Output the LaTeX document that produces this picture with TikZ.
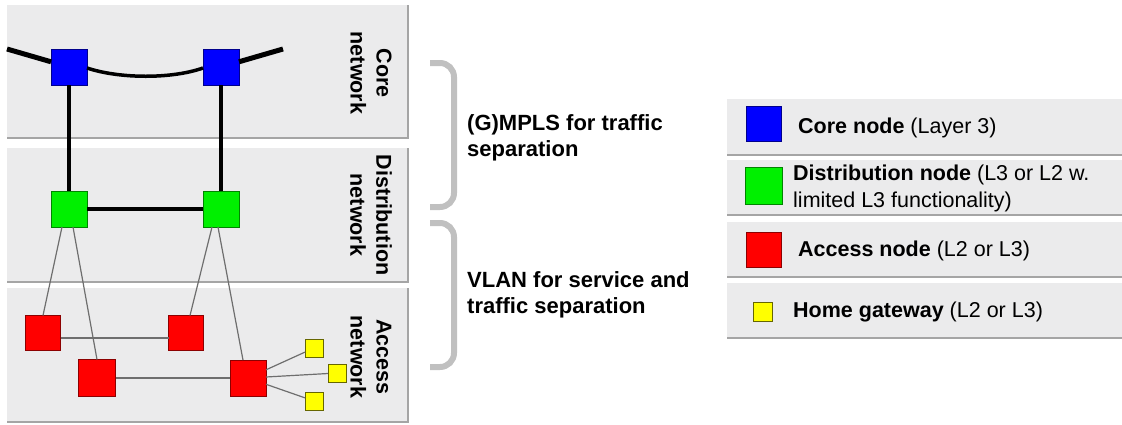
\documentclass[tikz,border=0pt]{standalone}
\usepackage{fontspec}
\setmainfont{Liberation Sans}
\begin{document}
\begin{tikzpicture}[x=1pt,y=-1pt,
  sq/.style={draw=#1!55!black,line width=1pt,fill=#1,minimum size=36pt,inner sep=0pt,outer sep=0pt},
  hg/.style={draw=yellow!40!black,line width=1pt,fill=yellow,minimum size=18pt,inner sep=0pt,outer sep=0pt},
  trunk/.style={line width=4pt,black},
  link/.style={line width=1.2pt,linkgray},
  brace/.style={line width=6pt,bracegray,rounded corners=14pt},
  lbl/.style={font=\fontsize{21.5}{26}\selectfont\bfseries,align=center,rotate=-90},
  note/.style={font=\fontsize{22}{26}\selectfont\bfseries,align=left,anchor=west,inner sep=0pt},
  key/.style={font=\fontsize{21.5}{27}\selectfont,align=left,anchor=west,inner sep=0pt}]
\definecolor{bandgray}{RGB}{235,235,236}
\definecolor{edgegray}{RGB}{165,165,165}
\definecolor{bracegray}{RGB}{192,192,192}
\definecolor{linkgray}{RGB}{110,110,110}
\definecolor{blue}{RGB}{0,0,255}
\definecolor{green}{RGB}{0,240,0}
\definecolor{red}{RGB}{255,0,0}
\definecolor{yellow}{RGB}{255,255,0}
\useasboundingbox (0,0) rectangle (1122,424);

% layer bands of the network
\foreach \ya/\yb in {5/138, 148/282, 288/422}{
  \fill[bandgray] (7,\ya) rectangle (408,\yb);
  \draw[edgegray,line width=2pt] (7,\yb) -- (408,\yb) -- (408,\ya);
}
% legend bands
\foreach \ya/\yb in {99/155, 160/215, 222/277, 283/338}{
  \fill[bandgray] (727,\ya) rectangle (1122,\yb);
  \draw[edgegray,line width=2pt] (727,\yb) -- (1122,\yb);
}

% band labels
\node[lbl] (lcore) at (371,73) {Core\\network};
\node[lbl] (ldist) at (371,215) {Distribution\\network};
\node[lbl] (lacc) at (371,357) {Access\\network};

% nodes
\node[sq=blue] (c1) at (69,67) {};
\node[sq=blue] (c2) at (221,67) {};
\node[sq=green] (d1) at (69,209) {};
\node[sq=green] (d2) at (221,209) {};
\node[sq=red,minimum size=35pt] (a1) at (43,333) {};
\node[sq=red,minimum size=35pt] (a2) at (186,333) {};
\node[sq=red,minimum size=37pt] (a3) at (97,378) {};
\node[sq=red,minimum size=36pt] (a4) at (248,378) {};
\node[hg] (h1) at (314,348) {};
\node[hg] (h2) at (337,373) {};
\node[hg] (h3) at (314,401) {};

% core ring
\coordinate (cl) at (7,49);
\coordinate (cr) at (283,49);
\draw[line width=5pt] (cl) -- (c1);
\draw[line width=5pt] (cr) -- (c2);
\draw[line width=3.5pt] ([yshift=-1pt]c1.east) .. controls (120,79) and (172,79) .. ([yshift=-1pt]c2.west);
% distribution trunks
\draw[trunk] (c1) -- (d1);
\draw[trunk] (c2) -- (d2);
\draw[trunk] (d1) -- (d2);
% access links
\draw[link] ([xshift=-7pt]d1.south) -- (a1.north);
\draw[link] ([xshift=4pt]d1.south) -- (a3.north);
\draw[link] ([xshift=-9pt]d2.south) -- ([xshift=4pt]a2.north);
\draw[link] ([xshift=-3pt]d2.south) -- ([xshift=-5pt]a4.north);
\draw[link] ([yshift=-5pt]a1.east) -- ([yshift=-5pt]a2.west);
\draw[link] (a3) -- (a4);
\draw[link] (a4) -- (h1);
\draw[link] (a4) -- (h2);
\draw[link] (a4) -- (h3);

% separation braces
\draw[brace] (430,63) -- (454,63) -- (454,207) -- (430,207);
\draw[brace] (430,223) -- (454,223) -- (454,367) -- (430,367);
\node[note] (mpls) at (467,137.5) {(G)MPLS for traffic\\separation};
\node[note] (vlan) at (467,295) {VLAN for service and\\traffic separation};

% legend
\node[sq=blue,minimum size=35pt] (kc) at (764,124) {};
\node[sq=green,minimum size=37pt] (kd) at (764,186) {};
\node[sq=red,minimum size=35pt] (ka) at (764,250) {};
\node[hg,minimum size=19pt] (kh) at (763,312) {};
\node[key] (tc) at (798,128) {\textbf{Core node} (Layer 3)};
\node[key] (td) at (793,188) {\textbf{Distribution node} (L3 or L2 w.\\limited L3 functionality)};
\node[key] (ta) at (798,251) {\textbf{Access node} (L2 or L3)};
\node[key] (th) at (793,312) {\textbf{Home gateway} (L2 or L3)};
\end{tikzpicture}
\end{document}
